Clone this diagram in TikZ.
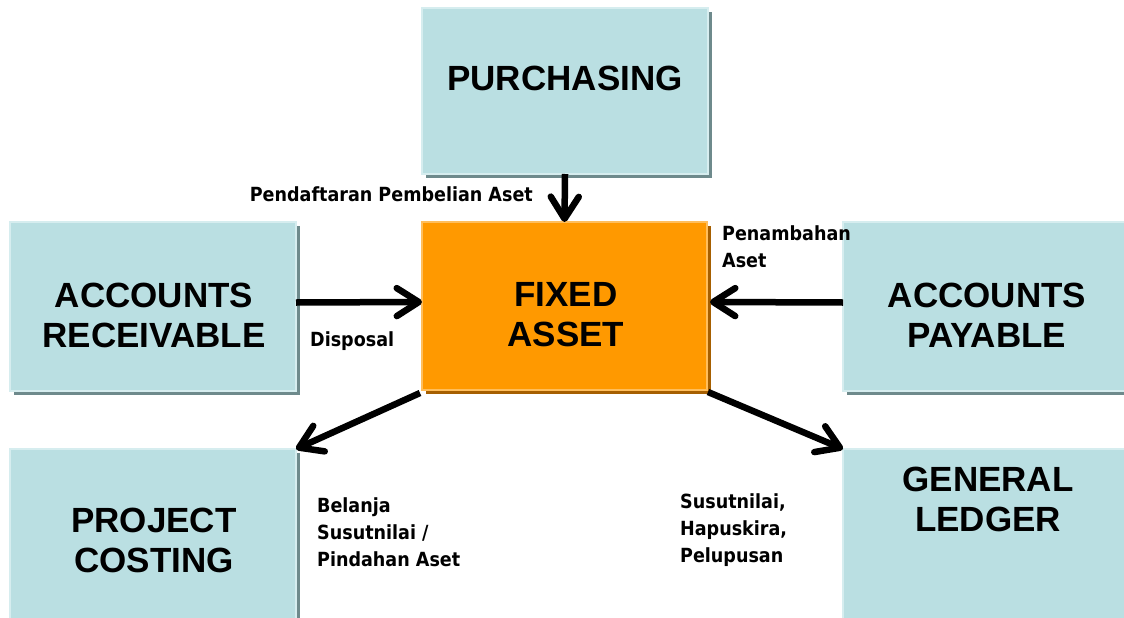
\documentclass[tikz,border=0pt]{standalone}
\usepackage{fontspec}
\setmainfont{Liberation Sans}
\newfontfamily\lblfont{DejaVu Sans}[FakeStretch=0.9]
\usetikzlibrary{arrows.meta,shadows}
\definecolor{boxblue}{HTML}{BADFE2}
\definecolor{boxblueshadow}{HTML}{6E8A8C}
\definecolor{boxbluehi}{HTML}{D6EDEF}
\definecolor{boxorange}{HTML}{FF9900}
\definecolor{boxorangeshadow}{HTML}{A65F00}
\definecolor{boxorangehi}{HTML}{FFBE5C}
\tikzset{
  panel/.style={anchor=north west, inner sep=0pt, outer sep=0pt, line width=1.5pt},
  bluepanel/.style={panel, fill=boxblue, draw=boxbluehi,
    drop shadow={shadow xshift=4pt, shadow yshift=-4pt, fill=boxblueshadow, opacity=1}},
  orangepanel/.style={panel, fill=boxorange, draw=boxorangehi,
    drop shadow={shadow xshift=4pt, shadow yshift=-4pt, fill=boxorangeshadow, opacity=1}},
  title/.style={font=\bfseries\fontsize{35}{40}\selectfont, align=center, inner sep=0pt},
  lbl/.style={font=\lblfont\bfseries\fontsize{19.5}{27}\selectfont, inner sep=0pt},
  flow/.style={line width=6.5pt, -{Straight Barb[length=22pt,width=28pt,round]}}
}
\begin{document}
\begin{tikzpicture}[x=1pt,y=-1pt]
\useasboundingbox (0,0) rectangle (1124,618);
\clip (0,0) rectangle (1124,618);
% panels
\node[bluepanel, minimum width=286pt, minimum height=166pt] (pur) at (422,8) {};
\node[orangepanel, minimum width=285pt, minimum height=168pt] (fa) at (422,222) {};
\node[bluepanel, minimum width=286pt, minimum height=169pt] (ar) at (10,222) {};
\node[bluepanel, minimum width=300pt, minimum height=169pt] (ap) at (843,222) {};
\node[bluepanel, minimum width=286pt, minimum height=190pt] (pc) at (10,449) {};
\node[bluepanel, minimum width=300pt, minimum height=190pt] (gl) at (843,449) {};
% titles
\node[title] (purT) at (565,78) {PURCHASING};
\node[title] (faT) at (566,315) {FIXED\\ASSET};
\node[title] (arT) at (154,315) {ACCOUNTS\\RECEIVABLE};
\node[title] (apT) at (987,315) {ACCOUNTS\\PAYABLE};
\node[title] (pcT) at (154,540) {PROJECT\\COSTING};
\node[title] (glT) at (988,499) {GENERAL\\LEDGER};
% connectors
\draw[flow] (pur.south) -- (fa.north);
\draw[flow] ([yshift=4pt]ar.east) -- ([yshift=4pt]fa.west);
\draw[flow] ([yshift=4pt]ap.west) -- ([xshift=3pt,yshift=4pt]fa.east);
\draw[flow] ([xshift=-2pt,yshift=-3pt]fa.south west) -- (pc.north east);
\draw[flow] ([xshift=1pt,yshift=-2pt]fa.south east) -- (gl.north west);
% labels
\node[lbl, anchor=base east] (l1) at (533,201) {Pendaftaran Pembelian Aset};
\node[lbl, anchor=base west] (l2) at (310,346) {Disposal};
\node[lbl, anchor=base west] (l3) at (722,240) {\begin{tabular}[t]{@{}l@{}}Penambahan\\Aset\end{tabular}};
\node[lbl, anchor=base west] (l4) at (317,512) {\begin{tabular}[t]{@{}l@{}}Belanja\\Susutnilai /\\Pindahan Aset\end{tabular}};
\node[lbl, anchor=base west] (l5) at (680,508) {\begin{tabular}[t]{@{}l@{}}Susutnilai,\\Hapuskira,\\Pelupusan\end{tabular}};
\end{tikzpicture}
\end{document}
